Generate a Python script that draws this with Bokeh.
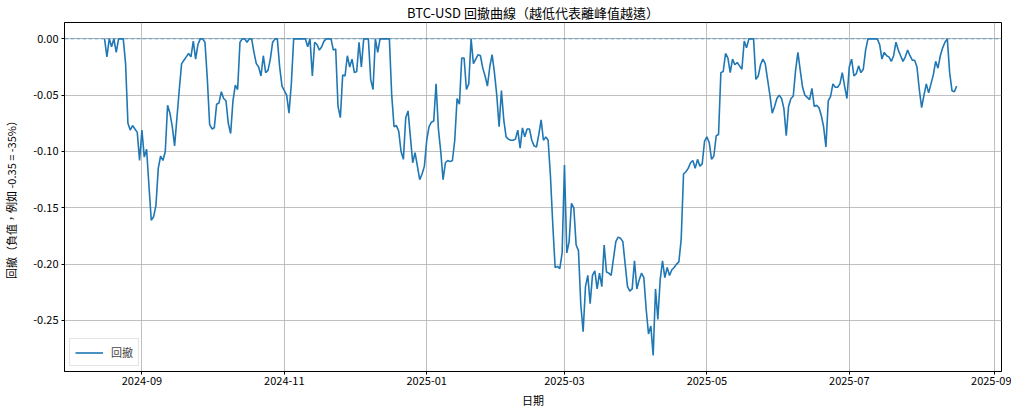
import pandas as pd
from bokeh.plotting import figure
from bokeh.models import (Range1d, Span, Legend, LegendItem, NumeralTickFormatter,
                          DatetimeTickFormatter, FixedTicker, MonthsTicker, ColumnDataSource)
from bokeh.embed import file_html
from bokeh.resources import INLINE

# ---------------- data ----------------
start_date = "2024-08-16"
drawdown = [
    0.000, -0.016, 0.000, -0.007, 0.000, -0.012, 0.000, 0.000, 0.000, -0.022,
    -0.075, -0.081, -0.077, -0.080, -0.083, -0.108, -0.081, -0.105, -0.098, -0.130,
    -0.161, -0.158, -0.148, -0.115, -0.104, -0.108, -0.100, -0.059, -0.066, -0.078,
    -0.095, -0.070, -0.045, -0.022, -0.019, -0.016, -0.013, -0.016, -0.002, -0.018,
    -0.005, 0.000, 0.000, -0.003, -0.035, -0.076, -0.080, -0.079, -0.058, -0.057,
    -0.047, -0.053, -0.055, -0.075, -0.084, -0.055, -0.041, -0.045, -0.003, 0.000,
    0.000, -0.003, 0.000, 0.000, -0.012, -0.022, -0.025, -0.033, -0.015, -0.030,
    -0.028, -0.018, -0.003, 0.000, 0.000, -0.025, -0.042, -0.046, -0.050, -0.066,
    -0.040, 0.000, 0.000, 0.000, 0.000, 0.000, 0.000, -0.007, 0.000, -0.033,
    -0.003, -0.005, -0.010, -0.007, -0.002, 0.000, 0.000, 0.000, -0.010, -0.009,
    -0.060, -0.070, -0.032, -0.033, -0.015, -0.025, -0.018, -0.030, -0.029, -0.003,
    -0.025, 0.000, 0.000, 0.000, -0.036, -0.045, 0.000, -0.012, 0.000, 0.000,
    0.000, 0.000, 0.000, -0.050, -0.078, -0.077, -0.082, -0.100, -0.107, -0.070,
    -0.064, -0.087, -0.110, -0.101, -0.113, -0.125, -0.120, -0.113, -0.090, -0.078,
    -0.074, -0.073, -0.040, -0.080, -0.100, -0.125, -0.110, -0.108, -0.109, -0.108,
    -0.090, -0.053, -0.058, -0.017, -0.017, -0.045, -0.040, 0.000, -0.022, -0.018,
    -0.014, -0.015, -0.026, -0.033, -0.042, -0.025, -0.014, -0.030, -0.050, -0.078,
    -0.046, -0.072, -0.087, -0.089, -0.090, -0.090, -0.089, -0.081, -0.097, -0.079,
    -0.087, -0.080, -0.080, -0.090, -0.095, -0.096, -0.085, -0.072, -0.090, -0.087,
    -0.090, -0.122, -0.165, -0.203, -0.202, -0.204, -0.190, -0.112, -0.190, -0.180,
    -0.146, -0.150, -0.183, -0.188, -0.236, -0.260, -0.220, -0.210, -0.235, -0.210,
    -0.206, -0.222, -0.208, -0.220, -0.183, -0.207, -0.208, -0.210, -0.195, -0.180,
    -0.176, -0.177, -0.180, -0.200, -0.220, -0.224, -0.222, -0.197, -0.222, -0.214,
    -0.208, -0.212, -0.240, -0.262, -0.255, -0.281, -0.222, -0.249, -0.214, -0.197,
    -0.212, -0.203, -0.210, -0.205, -0.203, -0.200, -0.198, -0.178, -0.120, -0.118,
    -0.115, -0.110, -0.108, -0.115, -0.107, -0.113, -0.111, -0.091, -0.087, -0.092,
    -0.107, -0.104, -0.086, -0.085, -0.030, -0.029, -0.013, -0.017, -0.030, -0.018,
    -0.023, -0.021, -0.024, -0.027, -0.002, -0.008, 0.000, 0.000, 0.000, -0.036,
    -0.033, -0.023, -0.018, -0.022, -0.036, -0.050, -0.066, -0.060, -0.053, -0.050,
    -0.053, -0.062, -0.086, -0.060, -0.053, -0.051, -0.028, -0.012, -0.028, -0.043,
    -0.050, -0.052, -0.054, -0.044, -0.060, -0.059, -0.061, -0.068, -0.078, -0.096,
    -0.055, -0.051, -0.040, -0.043, -0.043, -0.040, -0.030, -0.042, -0.053, -0.025,
    -0.018, -0.033, -0.031, -0.024, -0.030, -0.027, -0.010, 0.000, 0.000, 0.000,
    0.000, 0.000, -0.005, -0.018, -0.012, -0.015, -0.016, -0.020, -0.015, -0.003,
    -0.010, -0.015, -0.020, -0.016, -0.010, -0.015, -0.019, -0.019, -0.025, -0.045,
    -0.061, -0.050, -0.040, -0.048, -0.040, -0.032, -0.020, -0.026, -0.015, -0.008,
    -0.003, 0.000, -0.030, -0.046, -0.047, -0.042,
]
title_text = "BTC-USD 回撤曲線（越低代表離峰值越遠）"
x_label = "日期"
y_label = "回撤（負值，例如 -0.35 = -35%）"
series_name = "回撤"
y_ticks = [-0.25, -0.20, -0.15, -0.10, -0.05, 0.00]
x_tick_months = [0, 2, 4, 6, 8, 10]   # Bokeh months are 0-based: Jan, Mar, May, Jul, Sep, Nov
reference_level = 0.0

dates = pd.date_range(start_date, periods=len(drawdown), freq="D")
source = ColumnDataSource(data=dict(date=dates, dd=drawdown))

FONT = "Noto Sans CJK TC"
BLUE = "#1f77b4"

x_start = pd.Timestamp("2024-07-29 20:00")
x_end = pd.Timestamp("2025-09-04 05:00")

p = figure(frame_width=937, frame_height=349, x_axis_type="datetime",
           output_backend="svg", toolbar_location=None,
           x_range=Range1d(x_start, x_end),
           y_range=Range1d(-0.2953, 0.0145),
           min_border_left=61, min_border_right=10,
           min_border_top=14, min_border_bottom=37)

p.background_fill_color = "white"
p.border_fill_color = "white"
p.outline_line_color = "black"
p.outline_line_width = 1

p.title.text = title_text
p.title.align = "center"
p.title.text_font = FONT
p.title.text_font_size = "13px"
p.title.text_font_style = "normal"
p.title.text_color = "black"
p.title.standoff = 1

for ax in (p.xaxis[0], p.yaxis[0]):
    ax.major_label_text_font = FONT
    ax.major_label_text_font_size = "11px"
    ax.major_label_text_color = "black"
    ax.axis_label_text_font = FONT
    ax.axis_label_text_font_size = "11px"
    ax.axis_label_text_font_style = "normal"
    ax.axis_label_text_color = "black"
    ax.major_tick_in = 0
    ax.major_tick_out = 3
    ax.minor_tick_in = 0
    ax.minor_tick_out = 0
    ax.axis_line_color = "black"
    ax.major_tick_line_color = "black"

p.xaxis.axis_label = x_label
p.yaxis.axis_label = y_label
p.xaxis.ticker = MonthsTicker(months=x_tick_months)
p.xaxis.formatter = DatetimeTickFormatter(months="%Y-%m", days="%Y-%m", years="%Y-%m")
p.yaxis.ticker = FixedTicker(ticks=y_ticks)
p.yaxis.formatter = NumeralTickFormatter(format="0.00")
p.xaxis.major_label_standoff = 2
p.yaxis.major_label_standoff = 3
p.xaxis.axis_label_standoff = 4
p.yaxis.axis_label_standoff = 11

p.xgrid.grid_line_color = "#b0b0b0"
p.ygrid.grid_line_color = "#b0b0b0"
p.xgrid.grid_line_width = 0.8
p.ygrid.grid_line_width = 0.8

ref = Span(location=reference_level, dimension="width", line_color=BLUE,
           line_alpha=0.6, line_width=1, line_dash="4 2")
p.add_layout(ref)

r = p.line(x="date", y="dd", source=source, line_color=BLUE, line_width=1.6)

legend = Legend(items=[LegendItem(label=series_name, renderers=[r])],
                location="bottom_left")
legend.label_text_font = FONT
legend.label_text_font_size = "11px"
legend.border_line_color = "#cccccc"
legend.border_line_width = 1
legend.background_fill_alpha = 0.8
legend.padding = 5
legend.margin = 5
legend.glyph_width = 28
legend.glyph_height = 15
legend.label_height = 15
legend.label_standoff = 8
p.add_layout(legend)

open("out.html", "w").write(file_html(p, INLINE))
